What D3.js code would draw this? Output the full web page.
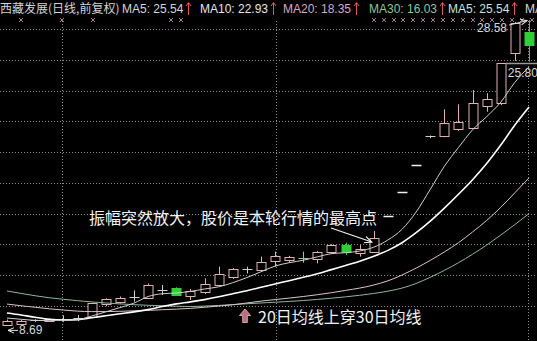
<!DOCTYPE html>
<meta charset="utf-8">
<style>
  body { margin: 0; background: #000; }
  svg { display: block; }
  /* dotted grid like the trading software */
  .grid line { stroke: #8c8c8c; stroke-width: 1; stroke-dasharray: 1 2; }
  .hdr { font: 12px "Liberation Sans", "Noto Sans CJK SC", sans-serif; }
  .title { font: 12px "Noto Sans CJK SC", "Liberation Sans", sans-serif; fill: #d4d4d4; }
  .note { font: 16px "Noto Sans CJK SC", sans-serif; fill: #f2f2f2; }
  .price { font: 12px "Liberation Sans", sans-serif; fill: #d8d8d8; }
</style>
<body>
<script src="https://cdn.jsdelivr.net/npm/d3@7/dist/d3.min.js"></script>
<script>

// daily candles, oldest first
var opens  = [8.75, 8.80, 9.02, 9.02, 9.12, 9.16, 9.29, 10.11, 10.27, 10.55, 10.52, 11.00, 11.13, 10.63, 10.88, 11.35, 11.85, 12.36, 12.30, 12.93,
              12.98, 13.17, 13.04, 13.52, 13.95, 13.45, 13.52, 15.83, 17.41, 19.15, 21.07, 21.04, 21.48, 21.58, 23.01, 23.17, 26.42, 27.82];
var highs  = [9.10, 9.08, 9.12, 9.18, 9.38, 9.40, 10.20, 10.48, 10.60, 11.00, 11.45, 11.35, 11.20, 11.09, 11.78, 12.54, 12.45, 12.54, 13.20, 13.52,
              13.25, 13.52, 13.55, 14.00, 14.10, 13.95, 14.86, 15.83, 17.41, 19.15, 21.07, 22.78, 23.10, 24.03, 23.82, 25.77, 28.45, 28.58];
var lows   = [8.69, 8.72, 8.95, 8.98, 8.96, 9.00, 9.20, 9.97, 10.15, 10.27, 10.45, 10.70, 10.65, 10.37, 10.76, 11.30, 11.75, 12.10, 12.25, 12.54,
              12.80, 12.80, 12.76, 13.37, 13.30, 13.20, 13.43, 15.83, 17.41, 19.15, 20.90, 20.96, 21.38, 21.58, 22.62, 23.05, 25.92, 25.87];
var closes = [9.04, 9.00, 9.05, 9.12, 9.12, 9.20, 10.16, 10.41, 10.50, 10.60, 11.35, 11.02, 10.70, 10.96, 11.40, 12.05, 12.37, 12.37, 12.87, 13.24,
              13.17, 13.13, 13.48, 13.95, 13.52, 13.70, 14.39, 15.83, 17.41, 19.15, 21.07, 21.90, 21.93, 23.17, 23.43, 25.77, 28.37, 26.95];

// moving averages
var ma5  = [9.20, 9.12, 9.05, 9.03, 9.07, 9.10, 9.33, 9.60, 9.88, 10.17, 10.60, 10.78, 10.83, 10.93, 11.09, 11.23, 11.50, 11.83, 12.21, 12.58,
            12.80, 12.96, 13.18, 13.39, 13.45, 13.56, 13.81, 14.28, 14.97, 16.10, 17.57, 19.07, 20.29, 21.44, 22.30, 23.24, 24.53, 25.54];
var ma10 = [9.53, 9.40, 9.25, 9.12, 9.07, 9.10, 9.22, 9.35, 9.48, 9.60, 9.75, 9.95, 10.12, 10.25, 10.40, 10.58, 10.78, 10.98, 11.20, 11.42,
            11.63, 11.85, 12.08, 12.35, 12.62, 12.90, 13.22, 13.60, 14.10, 14.75, 15.50, 16.35, 17.25, 18.20, 19.25, 20.45, 21.75, 22.92];
var ma20 = [10.11, 10.00, 9.90, 9.80, 9.72, 9.65, 9.62, 9.62, 9.64, 9.67, 9.70, 9.74, 9.78, 9.83, 9.90, 9.98, 10.06, 10.18, 10.30, 10.40,
            10.50, 10.60, 10.72, 10.85, 11.00, 11.15, 11.35, 11.62, 12.00, 12.45, 12.95, 13.50, 14.10, 14.80, 15.55, 16.40, 17.35, 18.32];
var ma30 = [10.96, 10.80, 10.65, 10.52, 10.42, 10.33, 10.25, 10.18, 10.12, 10.07, 10.03, 10.00, 9.97, 9.95, 9.98, 10.02, 10.08, 10.13, 10.18, 10.23,
            10.28, 10.34, 10.41, 10.49, 10.58, 10.68, 10.80, 10.95, 11.15, 11.45, 11.85, 12.30, 12.80, 13.35, 13.95, 14.60, 15.28, 15.99];

var title = "西藏发展(日线,前复权)";
var headerLabels = ["MA5: 25.54", "MA10: 22.93", "MA20: 18.35", "MA30: 16.03", "MA5: 25.54", "MA"];
var gridPrices = [10, 12, 14, 16, 18, 20, 22, 24, 26, 28];
var dateLines = [3.9, 19.1, 36.95];          // vertical separators, in candle units
var infoMarks = [1, 3.9, 6.1, 11.6, 12.3, 26, 26.7, 27.4, 28.1, 28.8, 29.5, 30.2, 30.9, 31.6, 32.3, 33, 33.7, 34.4, 35.1, 35.8, 36.5, 37.2];
var markPrice = 25.80;
var note1 = "振幅突然放大，股价是本轮行情的最高点";
var note2 = "20日均线上穿30日均线";

var W = 537, H = 341;

var svg = d3.select("body").append("svg")
  .attr("width", W)
  .attr("height", H)
  .style("background", "#000");

var x = d3.scaleLinear().domain([0, closes.length - 1]).range([7, 529]);
var y = d3.scaleLinear().domain([12, 28]).range([275, 29]);
var px = function (v) { return Math.round(v) + 0.5; };

// grid
var grid = svg.append("g").attr("class", "grid");
grid.selectAll(".h").data(gridPrices).enter().append("line")
  .attr("x1", 0).attr("x2", W)
  .attr("y1", function (d) { return px(y(d)); })
  .attr("y2", function (d) { return px(y(d)); });
grid.selectAll(".v").data(dateLines).enter().append("line")
  .attr("y1", 21).attr("y2", H)
  .attr("x1", function (d) { return px(x(d)); })
  .attr("x2", function (d) { return px(x(d)); });

// little x marks under the header
svg.append("g").selectAll("path").data(infoMarks).enter().append("path")
  .attr("d", function (d) {
    var cx = Math.round(x(d)), cy = 20;
    return "M" + (cx - 2) + "," + (cy - 2) + "L" + (cx + 2) + "," + (cy + 2) +
      "M" + (cx + 2) + "," + (cy - 2) + "L" + (cx - 2) + "," + (cy + 2);
  })
  .attr("stroke", "#a87898").attr("stroke-width", 1).attr("fill", "none");

// candles
var upCol = "#e3b0b8", downCol = "#2fcf35";
var candles = svg.append("g").selectAll("g")
  .data(d3.range(closes.length))
  .enter().append("g")
  .attr("transform", function (i) { return "translate(" + Math.round(x(i)) + ",0)"; });

candles.append("line")
  .attr("x1", 0.5).attr("x2", 0.5)
  .attr("y1", function (i) { return y(highs[i]); })
  .attr("y2", function (i) { return y(lows[i]); })
  .attr("stroke", function (i) {
    if (closes[i] < opens[i] - 0.05) return downCol;
    if (Math.abs(closes[i] - opens[i]) <= 0.05) return closes[i] < opens[i] ? "#8fcf8f" : "#cfcfcf";
    return upCol;
  });

candles.each(function (i) {
  var g = d3.select(this);
  var o = opens[i], c = closes[i];
  if (Math.abs(c - o) <= 0.05) {
    // doji / one-price limit-up day
    var flat = highs[i] === lows[i];
    g.append("line")
      .attr("x1", -4.5).attr("x2", 5.5)
      .attr("y1", px(y(c))).attr("y2", px(y(c)))
      .attr("stroke", flat ? "#f0f0f0" : (c < o ? "#8fcf8f" : "#cfcfcf"))
      .attr("stroke-width", flat ? 1.5 : 1);
    return;
  }
  var top = Math.round(y(Math.max(o, c))), bot = Math.round(y(Math.min(o, c)));
  g.append("rect")
    .attr("x", -4).attr("width", 9)
    .attr("y", top + 0.5).attr("height", Math.max(1, bot - top))
    .attr("fill", c > o ? "#000" : downCol)
    .attr("stroke", c > o ? upCol : downCol);
});

// moving average lines
var line = d3.line()
  .x(function (d, i) { return x(i); })
  .y(function (d) { return y(d); })
  .curve(d3.curveMonotoneX);

var maSeries = [
  { v: ma30, col: "#8fb79a", w: 1 },
  { v: ma20, col: "#dcc3cb", w: 1 },
  { v: ma10, col: "#ffffff", w: 1.6 },
  { v: ma5,  col: "#cfcfcf", w: 1 }
];
svg.append("g").selectAll("path").data(maSeries).enter().append("path")
  .attr("d", function (d) { return line(d.v); })
  .attr("fill", "none")
  .attr("stroke", function (d) { return d.col; })
  .attr("stroke-width", function (d) { return d.w; });

// header
svg.append("text").attr("class", "title").attr("x", 0).attr("y", 13).text(title);
var hdrX = [122, 200, 283, 369, 448, 525];
var hdrCol = ["#d6d6d6", "#e6e6e6", "#d9a9c4", "#8cc79a", "#c6e4dc", "#d6d6d6"];
headerLabels.forEach(function (t, k) {
  var tx = svg.append("text").attr("class", "hdr")
    .attr("x", hdrX[k]).attr("y", 13)
    .attr("fill", hdrCol[k]).text(t);
  if (k < headerLabels.length - 1) {
    var ax = Math.round(hdrX[k] + tx.node().getComputedTextLength() + 5) + 0.5;
    svg.append("path")
      .attr("d", "M" + ax + ",15L" + ax + ",3M" + (ax - 2.5) + ",6L" + ax + ",2.5L" + (ax + 2.5) + ",6")
      .attr("stroke", "#e0575f").attr("fill", "none").attr("stroke-width", 1);
  }
});

// arrow marker
svg.append("defs").append("marker")
  .attr("id", "ah").attr("viewBox", "0 0 10 10")
  .attr("refX", 9).attr("refY", 5)
  .attr("markerWidth", 7).attr("markerHeight", 7)
  .attr("orient", "auto")
  .append("path").attr("d", "M0,1L9,5L0,9").attr("fill", "none").attr("stroke", "#f0f0f0").attr("stroke-width", 1.4);

// highest / lowest price labels
var hiIdx = d3.maxIndex(highs), loIdx = d3.minIndex(lows);
svg.append("text").attr("class", "price")
  .attr("x", x(hiIdx) - 22).attr("y", y(highs[hiIdx]) + 12)
  .attr("text-anchor", "end").text(highs[hiIdx].toFixed(2));
svg.append("path")
  .attr("d", "M" + (x(hiIdx) - 20) + "," + (y(highs[hiIdx]) + 5) + "L" + (x(hiIdx) - 2) + "," + (y(highs[hiIdx]) + 0.5))
  .attr("stroke", "#e0e0e0").attr("fill", "none").attr("marker-end", "url(#ah)");

svg.append("text").attr("class", "price")
  .attr("x", x(loIdx) + 12).attr("y", y(lows[loIdx]) + 8.5)
  .text(lows[loIdx].toFixed(2));
svg.append("path")
  .attr("d", "M" + (x(loIdx) + 11) + "," + (y(lows[loIdx]) + 4.5) + "L" + (x(loIdx) + 1) + "," + (y(lows[loIdx]) + 4.5))
  .attr("stroke", "#e0e0e0").attr("fill", "none").attr("marker-end", "url(#ah)");

// limit-up close level
svg.append("line")
  .attr("x1", x(35) + 5).attr("x2", W)
  .attr("y1", px(y(markPrice))).attr("y2", px(y(markPrice)))
  .attr("stroke", "#9a9a9a").attr("stroke-width", 1.5);
svg.append("text").attr("class", "price")
  .attr("x", x(35) + 7).attr("y", y(markPrice) + 14)
  .text(markPrice.toFixed(2));

// annotations
svg.append("text").attr("class", "note")
  .attr("x", 89).attr("y", 224).text(note1);
svg.append("path")
  .attr("d", "M" + 331 + "," + 228 + "L" + (x(26) - 2) + "," + (y(highs[26]) + 11))
  .attr("stroke", "#f0f0f0").attr("fill", "none").attr("stroke-width", 1.2)
  .attr("marker-end", "url(#ah)");

// pink up arrow + crossover note
var ax2 = 245, ay2 = 309;
svg.append("path")
  .attr("d", "M" + ax2 + "," + ay2 + "l5.5,6.5h-3.2v7h-4.6v-7h-3.2z")
  .attr("fill", "#b86f80").attr("stroke", "#dc9aa8").attr("stroke-width", 1);
svg.append("text").attr("class", "note")
  .attr("x", 258).attr("y", 323).text(note2);

</script>
</body>
